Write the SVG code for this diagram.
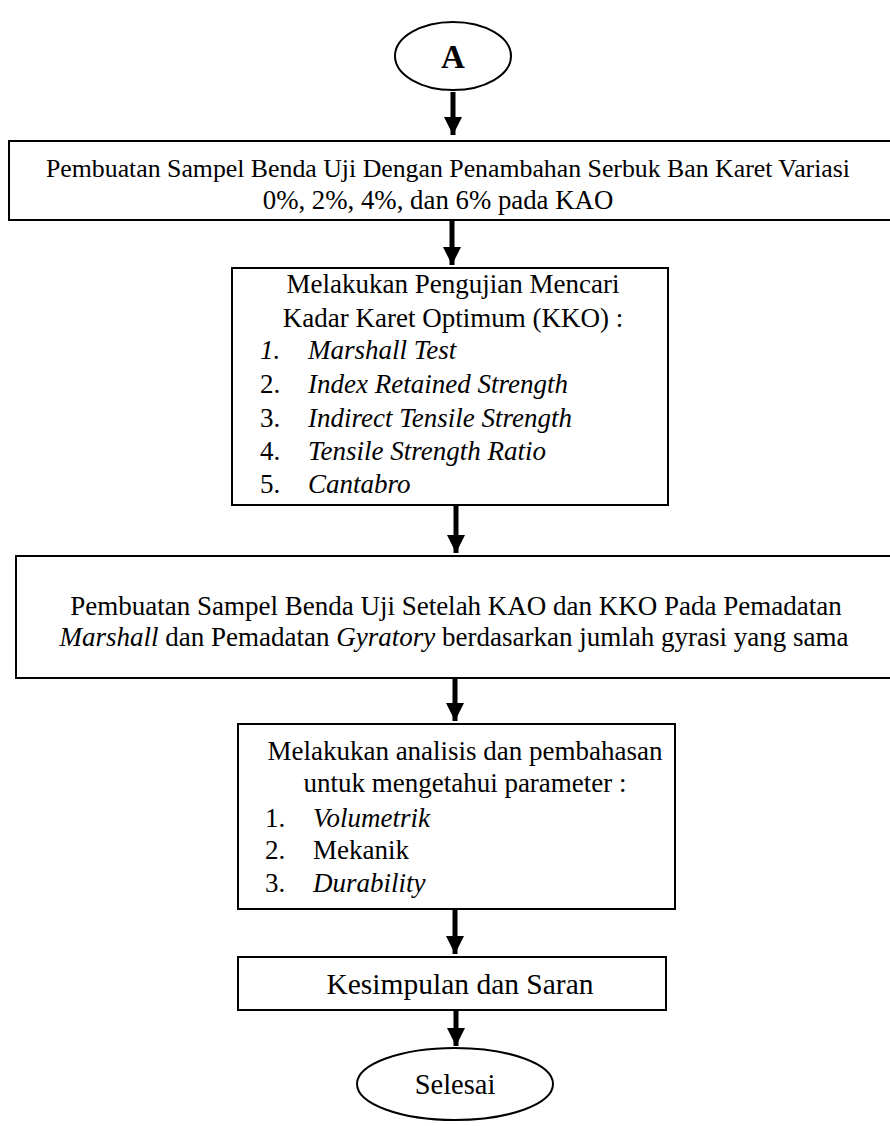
<svg xmlns="http://www.w3.org/2000/svg" width="890" height="1126" viewBox="0 0 890 1126">
<defs>
<style>
.box{fill:#fff;stroke:#000;stroke-width:2}
.t{font-family:"Liberation Serif","Times New Roman",serif;font-size:27px;fill:#000}
.c{text-anchor:middle}
.i{font-style:italic}
.conn line{stroke:#000;stroke-width:5}
</style>
<marker id="ah" markerUnits="userSpaceOnUse" markerWidth="18" markerHeight="18" refX="18" refY="9" orient="auto" viewBox="0 0 18 18">
<path d="M0,0 L18,9 L0,18 Z" fill="#000"/>
</marker>
</defs>
<rect width="890" height="1126" fill="#fff"/>
<g id="start">
<ellipse cx="453" cy="56" rx="58" ry="34" fill="#fff" stroke="#000" stroke-width="2"/>
<text class="t c" x="453" y="68" style="font-weight:bold;font-size:33px">A</text>
</g>
<g id="box1">
<rect class="box" x="9" y="141" width="890" height="79"/>
<text class="t c" x="448" y="177" style="font-size:25.8px">Pembuatan Sampel Benda Uji Dengan Penambahan Serbuk Ban Karet Variasi</text>
<text class="t c" x="438" y="209" style="font-size:26.8px">0%, 2%, 4%, dan 6% pada KAO</text>
</g>
<g id="box2">
<rect class="box" x="232" y="268" width="436" height="237"/>
<text class="t c" x="453" y="293">Melakukan Pengujian Mencari</text>
<text class="t c" x="453" y="327">Kadar Karet Optimum (KKO) :</text>
<text class="t i" x="260" y="359">1.</text><text class="t i" x="308" y="359">Marshall Test</text>
<text class="t" x="260" y="393">2.</text><text class="t i" x="308" y="393">Index Retained Strength</text>
<text class="t" x="260" y="427">3.</text><text class="t i" x="308" y="427">Indirect Tensile Strength</text>
<text class="t" x="260" y="460">4.</text><text class="t i" x="308" y="460">Tensile Strength Ratio</text>
<text class="t" x="260" y="493">5.</text><text class="t i" x="308" y="493">Cantabro</text>
</g>
<g id="box3">
<rect class="box" x="16" y="556" width="890" height="122"/>
<text class="t c" x="456" y="615">Pembuatan Sampel Benda Uji Setelah KAO dan KKO Pada Pemadatan</text>
<text class="t c" x="454" y="646"><tspan class="i">Marshall</tspan> dan Pemadatan <tspan class="i">Gyratory</tspan> berdasarkan jumlah gyrasi yang sama</text>
</g>
<g id="box4">
<rect class="box" x="238" y="724" width="437" height="185"/>
<text class="t c" x="465" y="760">Melakukan analisis dan pembahasan</text>
<text class="t c" x="465" y="792">untuk mengetahui parameter :</text>
<text class="t" x="265" y="827">1.</text><text class="t i" x="313" y="827">Volumetrik</text>
<text class="t" x="265" y="859">2.</text><text class="t" x="313" y="859">Mekanik</text>
<text class="t" x="265" y="892">3.</text><text class="t i" x="313" y="892">Durability</text>
</g>
<g id="box5">
<rect class="box" x="238" y="957" width="428" height="53"/>
<text class="t c" x="460" y="994" style="font-size:29.5px">Kesimpulan dan Saran</text>
</g>
<g id="end">
<ellipse cx="455" cy="1084" rx="98" ry="36" fill="#fff" stroke="#000" stroke-width="2"/>
<text class="t c" x="455" y="1094" style="font-size:28.5px">Selesai</text>
</g>
<g id="connectors" class="conn">
<line x1="453" y1="92" x2="453" y2="135" marker-end="url(#ah)"/>
<line x1="452" y1="221" x2="452" y2="265" marker-end="url(#ah)"/>
<line x1="456" y1="506" x2="456" y2="553" marker-end="url(#ah)"/>
<line x1="455" y1="679" x2="455" y2="721" marker-end="url(#ah)"/>
<line x1="455" y1="910" x2="455" y2="954" marker-end="url(#ah)"/>
<line x1="456" y1="1011" x2="456" y2="1046" marker-end="url(#ah)"/>
</g>
</svg>
